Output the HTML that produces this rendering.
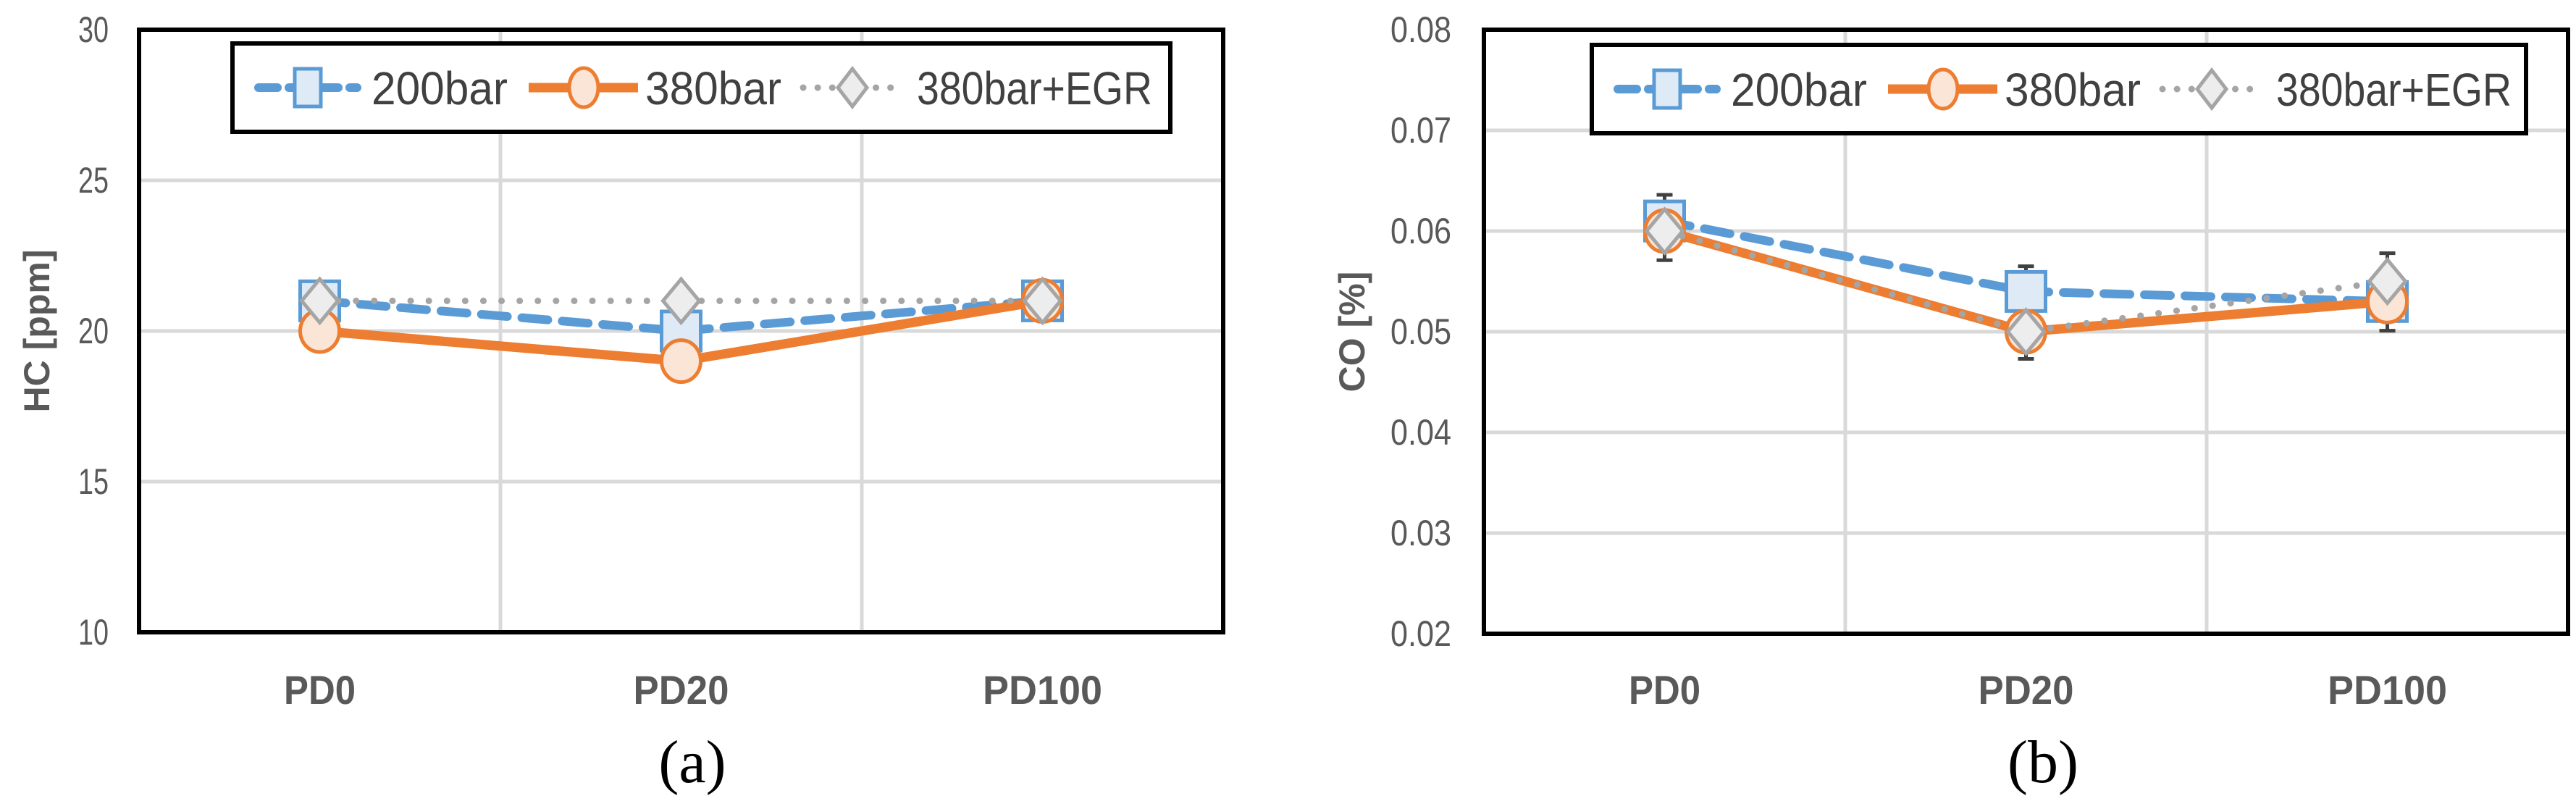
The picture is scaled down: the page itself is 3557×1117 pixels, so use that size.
<!DOCTYPE html>
<html><head><meta charset="utf-8"><style>
html,body{margin:0;padding:0;background:#fff;}
svg{display:block;}
</style></head><body>
<svg id="root" width="3557" height="1117" viewBox="0 0 3557 1117" xmlns="http://www.w3.org/2000/svg"></svg>
<script>
const categories = ["PD0","PD20","PD100"];
const hc200 = [21,20,21];
const hc380 = [20,19,21];
const hcEgr = [21,21,21];
const hcTicks = [10,15,20,25,30];
const co200 = [0.061,0.054,0.053];
const co380 = [0.060,0.050,0.053];
const coEgr = [0.060,0.050,0.055];
const coErrHigh = [0.0636,0.0565,0.0578];
const coErrLow = [0.0571,0.0473,0.0501];
const coTicks = [0.02,0.03,0.04,0.05,0.06,0.07,0.08];

const NS="http://www.w3.org/2000/svg";
const root=document.getElementById('root');
function mk(tag,attrs,parent){const e=document.createElementNS(NS,tag);for(const k in attrs)e.setAttribute(k,attrs[k]);(parent||root).appendChild(e);return e;}

function chart(cfg){
  const g=mk('g',{});
  
  
  const L=cfg.left,R=cfg.right,T=cfg.top,B=cfg.bottom;
  const ymin=cfg.ticks[0],ymax=cfg.ticks[cfg.ticks.length-1];
  const y=v=>B-(v-ymin)/(ymax-ymin)*(B-T);
  const band=(R-L)/categories.length;
  const x=i=>L+band*(i+0.5);
  cfg.ticks.forEach(t=>{
    const ln=mk('line',{x1:L,x2:R,y1:y(t),y2:y(t),stroke:'#d9d9d9','stroke-width':5},g);
    
    
    const s=cfg.fmt(t);
    const tx=mk('text',{x:cfg.tickX,y:y(t)+17,'text-anchor':'end','font-family':'Liberation Sans, sans-serif','font-size':50,fill:'#595959',textLength:s.length*21,lengthAdjust:'spacingAndGlyphs'},g);
    tx.textContent=s;
    
    
  });
  for(let i=1;i<categories.length;i++){
    const ln=mk('line',{x1:L+band*i,x2:L+band*i,y1:T,y2:B,stroke:'#d9d9d9','stroke-width':5},g);
    
    
  }
  categories.forEach((c,i)=>{
    const tx=mk('text',{x:x(i),y:972,'text-anchor':'middle','font-family':'Liberation Sans, sans-serif','font-size':56,'font-weight':'bold',fill:'#595959',textLength:c.length*33,lengthAdjust:'spacingAndGlyphs'},g);
    tx.textContent=c;
    
    
  });
  const fr=mk('rect',{x:L,y:T,width:R-L,height:B-T,fill:'none',stroke:'#000','stroke-width':6},g);
  
  
  const at=mk('text',{x:0,y:0,transform:`translate(${cfg.titleX},${(T+B)/2}) rotate(-90)`,'text-anchor':'middle','font-family':'Liberation Sans, sans-serif','font-size':50,'font-weight':'bold',fill:'#595959'},g);
  at.textContent=cfg.ytitle;
  
  
  const pts=a=>a.map((v,i)=>x(i)+','+y(v)).join(' ');
  if(cfg.errHigh){
    cfg.errHigh.forEach((h,i)=>{
      const lo=cfg.errLow[i];
      const eb=mk('g',{stroke:'#404040','stroke-width':5},g);
      
      
      mk('line',{x1:x(i),x2:x(i),y1:y(h),y2:y(lo)},eb);
      mk('line',{x1:x(i)-11,x2:x(i)+11,y1:y(h),y2:y(h)},eb);
      mk('line',{x1:x(i)-11,x2:x(i)+11,y1:y(lo),y2:y(lo)},eb);
    });
  }
  const s1=mk('polyline',{points:pts(cfg.s200),fill:'none',stroke:'#5b9bd5','stroke-width':12,'stroke-dasharray':'36 20','stroke-linecap':'round'},g);
  
  
  cfg.s200.forEach((v,i)=>{
    const m=mk('rect',{x:x(i)-27,y:y(v)-27,width:54,height:54,fill:'#deebf7',stroke:'#5b9bd5','stroke-width':5},g);
    
    
  });
  const s2=mk('polyline',{points:pts(cfg.s380),fill:'none',stroke:'#ed7d31','stroke-width':13,'stroke-linejoin':'round'},g);
  
  
  cfg.s380.forEach((v,i)=>{
    const m=mk('ellipse',{cx:x(i),cy:y(v),rx:27,ry:29,fill:'#fbe5d6',stroke:'#ed7d31','stroke-width':5},g);
    
    
  });
  const s3=mk('polyline',{points:pts(cfg.egr),fill:'none',stroke:'#a5a5a5','stroke-width':9,'stroke-dasharray':'0.1 25','stroke-linecap':'round'},g);
  
  
  cfg.egr.forEach((v,i)=>{
    const cx=x(i),cy=y(v);
    const m=mk('polygon',{points:`${cx},${cy-30} ${cx+25},${cy} ${cx},${cy+30} ${cx-25},${cy}`,fill:'#ededed',stroke:'#a5a5a5','stroke-width':5},g);
    
    
  });
  const lg=mk('g',{},g);
  
  
  const lx=cfg.legX,ly=cfg.legY,lw=cfg.legW,lh=122;
  mk('rect',{x:lx,y:ly,width:lw,height:lh,fill:'#fff',stroke:'#000','stroke-width':6},lg);
  const cy=ly+lh/2;
  const ts={'font-family':'Liberation Sans, sans-serif','font-size':64,fill:'#404040',lengthAdjust:'spacingAndGlyphs'};
  const e1=mk('g',{},lg);
  
  
  mk('line',{x1:lx+36,x2:lx+172,y1:cy,y2:cy,stroke:'#5b9bd5','stroke-width':12,'stroke-dasharray':'26 16','stroke-linecap':'round'},e1);
  mk('rect',{x:lx+86,y:cy-26,width:36,height:52,fill:'#deebf7',stroke:'#5b9bd5','stroke-width':5},e1);
  const t1=mk('text',Object.assign({x:lx+192,y:cy+23,textLength:188},ts),e1);t1.textContent='200bar';
  const e2=mk('g',{},lg);
  
  
  mk('line',{x1:lx+409,x2:lx+560,y1:cy,y2:cy,stroke:'#ed7d31','stroke-width':13},e2);
  mk('ellipse',{cx:lx+485,cy:cy,rx:20,ry:27,fill:'#fbe5d6',stroke:'#ed7d31','stroke-width':5},e2);
  const t2=mk('text',Object.assign({x:lx+570,y:cy+23,textLength:188},ts),e2);t2.textContent='380bar';
  const e3=mk('g',{},lg);
  
  
  mk('line',{x1:lx+788,x2:lx+925,y1:cy,y2:cy,stroke:'#a5a5a5','stroke-width':9,'stroke-dasharray':'0.1 20','stroke-linecap':'round'},e3);
  mk('polygon',{points:`${lx+856},${cy-26} ${lx+876},${cy} ${lx+856},${cy+26} ${lx+836},${cy}`,fill:'#ededed',stroke:'#a5a5a5','stroke-width':5},e3);
  const t3=mk('text',Object.assign({x:lx+945,y:cy+23,textLength:325},ts),e3);t3.textContent='380bar+EGR';
  const cap=mk('text',{x:cfg.capX,y:1080,'text-anchor':'middle','font-family':'Liberation Serif, serif','font-size':84,fill:'#000'},g);
  cap.textContent=cfg.cap;
  
  
}
chart({name:'chart-hc',left:192,right:1689,top:41,bottom:873,ticks:hcTicks,fmt:t=>String(t),tickX:150,titleX:68,ytitle:'HC [ppm]',
  s200:hc200,s380:hc380,egr:hcEgr,legX:321,legY:60,legW:1295,capX:956,cap:'(a)'});
chart({name:'chart-co',left:2049,right:3546,top:41,bottom:875,ticks:coTicks,fmt:t=>t.toFixed(2),tickX:2004,titleX:1884,ytitle:'CO [%]',
  s200:co200,s380:co380,egr:coEgr,errHigh:coErrHigh,errLow:coErrLow,legX:2198,legY:62,legW:1290,capX:2821,cap:'(b)'});
</script>
</body></html>
